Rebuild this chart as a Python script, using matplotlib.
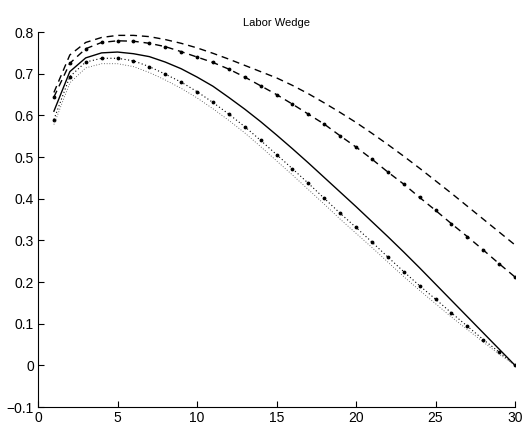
import matplotlib
matplotlib.use("Agg")
import matplotlib.pyplot as plt
import numpy as np

plt.rcParams['font.family'] = ['Liberation Sans', 'DejaVu Sans']

periods = list(range(1, 31))

dashed_top = [0.655, 0.745, 0.775, 0.787, 0.792, 0.792, 0.789, 0.782, 0.773, 0.762,
              0.749, 0.735, 0.720, 0.705, 0.690, 0.672, 0.652, 0.630, 0.607, 0.583,
              0.557, 0.530, 0.502, 0.473, 0.443, 0.413, 0.382, 0.351, 0.320, 0.289]

dashed_marked = [0.644, 0.725, 0.760, 0.775, 0.779, 0.778, 0.773, 0.765, 0.753, 0.740,
                 0.727, 0.711, 0.692, 0.671, 0.650, 0.627, 0.603, 0.579, 0.551, 0.524,
                 0.495, 0.464, 0.435, 0.403, 0.372, 0.340, 0.309, 0.277, 0.244, 0.212]

solid = [0.610, 0.705, 0.738, 0.750, 0.752, 0.748, 0.741, 0.728, 0.712, 0.692,
         0.670, 0.643, 0.615, 0.585, 0.553, 0.520, 0.486, 0.451, 0.416, 0.381,
         0.345, 0.309, 0.272, 0.234, 0.195, 0.156, 0.117, 0.078, 0.039, 0.000]

dotted_marked = [0.590, 0.693, 0.728, 0.737, 0.737, 0.731, 0.717, 0.699, 0.680, 0.657,
                 0.631, 0.603, 0.573, 0.540, 0.506, 0.472, 0.437, 0.401, 0.365, 0.331,
                 0.296, 0.260, 0.225, 0.191, 0.159, 0.126, 0.094, 0.062, 0.032, 0.000]

dotted_plain = [0.578, 0.678, 0.714, 0.724, 0.724, 0.717, 0.703, 0.685, 0.665, 0.642,
                0.616, 0.588, 0.558, 0.525, 0.491, 0.457, 0.422, 0.387, 0.351, 0.317,
                0.283, 0.248, 0.213, 0.180, 0.148, 0.116, 0.086, 0.056, 0.027, 0.000]

xticks = [0, 5, 10, 15, 20, 25, 30]
yticks = [-0.1, 0, 0.1, 0.2, 0.3, 0.4, 0.5, 0.6, 0.7, 0.8]
ytick_labels = ['\u22120.1', '0', '0.1', '0.2', '0.3', '0.4', '0.5', '0.6', '0.7', '0.8']

fig = plt.figure(figsize=(5.25, 4.33), dpi=100)
ax = fig.add_axes([0.0724, 0.060, 0.9086, 0.866])

ax.plot(periods, dashed_top, color='black', lw=1.0, linestyle=(0, (5, 3.5)))
ax.plot(periods, dashed_marked, color='black', lw=1.0, linestyle=(0, (5, 3.5)),
        marker='.', markersize=3.5)
ax.plot(periods, solid, color='black', lw=1.0, linestyle='-')
ax.plot(periods, dotted_marked, color='black', lw=0.8, linestyle=(0, (1, 2.2)),
        marker='.', markersize=3.5)
ax.plot(periods, dotted_plain, color='#444444', lw=0.6, linestyle=(0, (1, 2.2)))

ax.set_xlim(0, 30)
ax.set_ylim(-0.1, 0.8)
ax.set_xticks(xticks)
ax.set_yticks(yticks)
ax.set_yticklabels(ytick_labels)
ax.tick_params(direction='in', length=4, width=0.8, labelsize=10, pad=3)
for s in ['top', 'right']:
    ax.spines[s].set_visible(False)
for s in ['left', 'bottom']:
    ax.spines[s].set_linewidth(0.8)

ax.set_title('Labor Wedge', fontsize=8, pad=4)

fig.savefig('out.png', dpi=100)
